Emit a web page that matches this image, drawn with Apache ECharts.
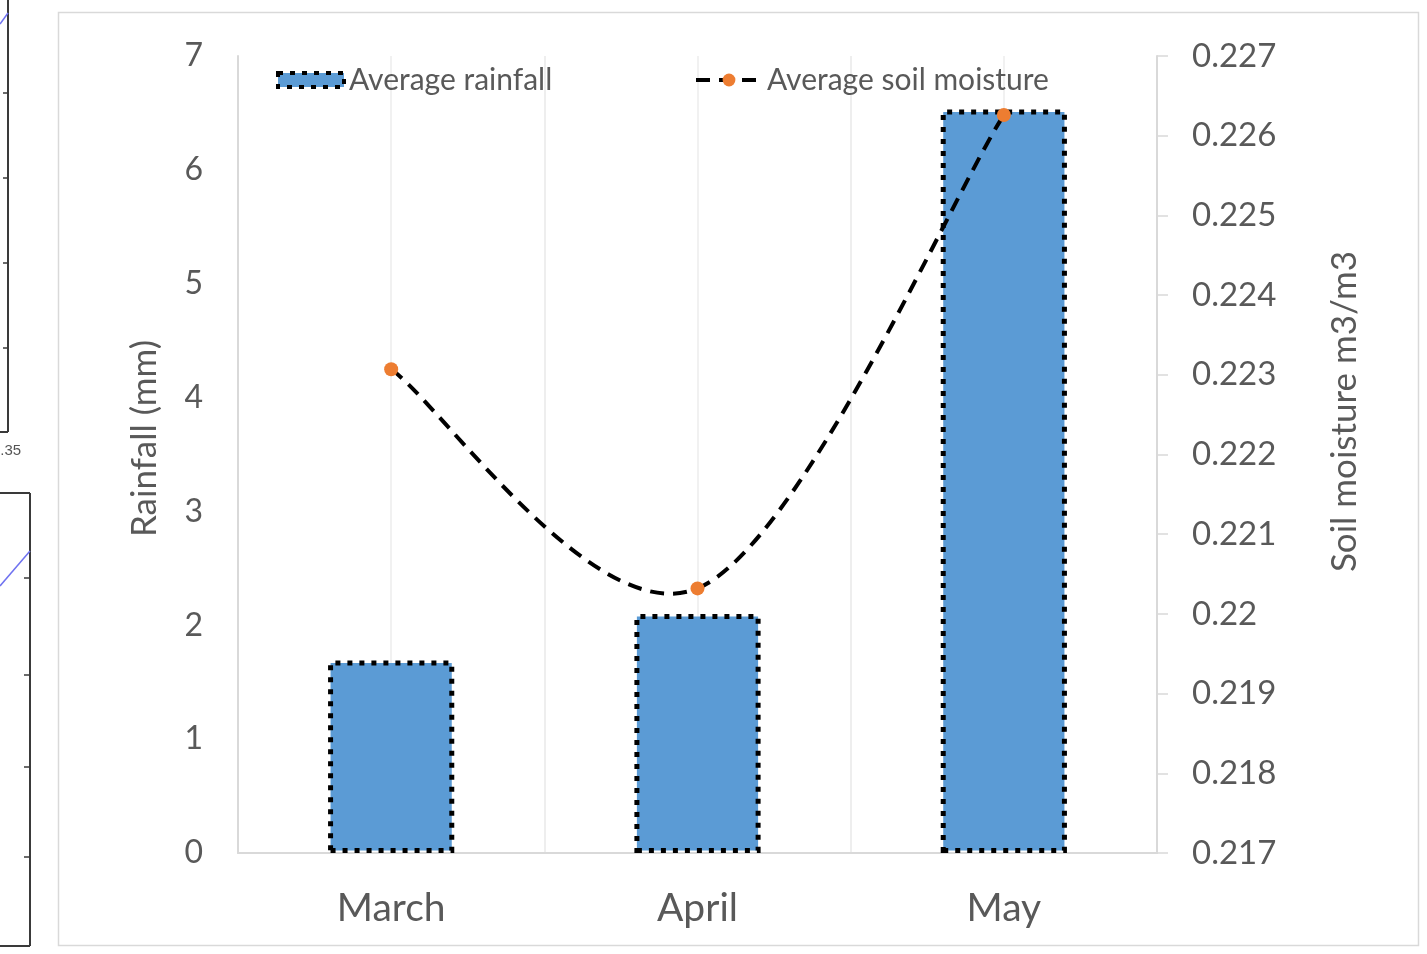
<!DOCTYPE html>
<html>
<head>
<meta charset="utf-8">
<script src="https://cdn.jsdelivr.net/npm/echarts@6/dist/echarts.min.js"></script>
<style>
  html, body { margin: 0; padding: 0; background: #ffffff; }
  #chart { width: 1427px; height: 954px; }
</style>
</head>
<body>
<div id="chart"></div>
<script>
// Monthly averages
const months = ['March', 'April', 'May'];
const rainfall = [1.69, 2.1, 6.53];            // mm
const soilMoisture = [0.22307, 0.22032, 0.22626]; // m3/m3
const rainTicks = { min: 0, max: 7, step: 1 };
const moistTicks = { min: 0.217, max: 0.227, step: 0.001 };

const FONT = 'Lato, "Open Sans", sans-serif';
const GREY_TEXT = '#595959';
const AXIS_GREY = '#d9d9d9';

const barBorder = {
  borderColor: '#000000',
  borderWidth: 5,
  borderType: [5, 7],
  borderCap: 'butt'
};
const moistureLine = { stroke: '#000000', lineWidth: 4, lineDash: [14, 9], fill: null };

const chart = echarts.init(document.getElementById('chart'), null, { renderer: 'canvas' });

// Neighbouring panel edge on the far left of the page
const sidePanel = [
  { type: 'line', shape: { x1: 8, y1: 0, x2: 8, y2: 432 }, style: { stroke: '#3a3a3a', lineWidth: 2 } },
  { type: 'line', shape: { x1: 0, y1: 432, x2: 8, y2: 432 }, style: { stroke: '#3a3a3a', lineWidth: 2 } },
  { type: 'line', shape: { x1: 3, y1: 93, x2: 8, y2: 93 }, style: { stroke: '#3a3a3a', lineWidth: 1.5 } },
  { type: 'line', shape: { x1: 3, y1: 178, x2: 8, y2: 178 }, style: { stroke: '#3a3a3a', lineWidth: 1.5 } },
  { type: 'line', shape: { x1: 3, y1: 263, x2: 8, y2: 263 }, style: { stroke: '#3a3a3a', lineWidth: 1.5 } },
  { type: 'line', shape: { x1: 3, y1: 348, x2: 8, y2: 348 }, style: { stroke: '#3a3a3a', lineWidth: 1.5 } },
  { type: 'line', shape: { x1: 0, y1: 24, x2: 8, y2: 13 }, style: { stroke: '#6f72f0', lineWidth: 1.5 } },
  { type: 'text', x: -8, y: 443, style: { text: '0.35', font: '15px sans-serif', fill: '#555555' } },
  { type: 'line', shape: { x1: 0, y1: 493, x2: 30, y2: 493 }, style: { stroke: '#3a3a3a', lineWidth: 2 } },
  { type: 'line', shape: { x1: 30, y1: 493, x2: 30, y2: 946 }, style: { stroke: '#3a3a3a', lineWidth: 2 } },
  { type: 'line', shape: { x1: 0, y1: 946, x2: 30, y2: 946 }, style: { stroke: '#3a3a3a', lineWidth: 2 } },
  { type: 'line', shape: { x1: 24, y1: 578, x2: 30, y2: 578 }, style: { stroke: '#3a3a3a', lineWidth: 1.5 } },
  { type: 'line', shape: { x1: 24, y1: 675, x2: 30, y2: 675 }, style: { stroke: '#3a3a3a', lineWidth: 1.5 } },
  { type: 'line', shape: { x1: 24, y1: 767, x2: 30, y2: 767 }, style: { stroke: '#3a3a3a', lineWidth: 1.5 } },
  { type: 'line', shape: { x1: 24, y1: 857, x2: 30, y2: 857 }, style: { stroke: '#3a3a3a', lineWidth: 1.5 } },
  { type: 'line', shape: { x1: 0, y1: 586, x2: 30, y2: 551 }, style: { stroke: '#6f72f0', lineWidth: 1.5 } }
];

// Smoothed curve through the moisture points (Catmull-Rom style tangents,
// as spreadsheet "smoothed line" charts draw them)
function renderMoistureCurve(params, api) {
  if (params.dataIndex !== 0) return null;
  const pts = soilMoisture.map((v, i) => api.coord([i, v]));
  const children = [];
  for (let i = 0; i < pts.length - 1; i++) {
    const p0 = pts[i - 1] || pts[i];
    const p1 = pts[i];
    const p2 = pts[i + 1];
    const p3 = pts[i + 2] || pts[i + 1];
    children.push({
      type: 'bezierCurve',
      shape: {
        x1: p1[0], y1: p1[1],
        cpx1: p1[0] + (p2[0] - p0[0]) / 6, cpy1: p1[1] + (p2[1] - p0[1]) / 6,
        cpx2: p2[0] - (p3[0] - p1[0]) / 6, cpy2: p2[1] - (p3[1] - p1[1]) / 6,
        x2: p2[0], y2: p2[1]
      },
      style: moistureLine
    });
  }
  return { type: 'group', children };
}

const option = {
  backgroundColor: '#ffffff',
  animation: false,
  textStyle: { fontFamily: FONT },
  graphic: [
    { type: 'rect', shape: { x: 58.5, y: 12.5, width: 1360, height: 933 },
      style: { fill: 'none', stroke: AXIS_GREY, lineWidth: 1.5 }, z: -10 },
    ...sidePanel
  ],
  grid: { left: 238, right: 270, top: 56, bottom: 101, containLabel: false },
  legend: [
    {
      data: [{ name: 'Average rainfall', icon: 'rect',
               itemStyle: Object.assign({ color: '#5b9bd5' }, barBorder, { borderWidth: 4 }) }],
      left: 271, top: 60,
      itemWidth: 66, itemHeight: 14,
      textStyle: { fontFamily: FONT, fontSize: 30, color: GREY_TEXT }
    },
    {
      data: [{ name: 'Average soil moisture',
               lineStyle: { color: '#000000', width: 4, type: [14, 9], opacity: 1 } }],
      left: 689, top: 60,
      itemWidth: 66, itemHeight: 16,
      textStyle: { fontFamily: FONT, fontSize: 30, color: GREY_TEXT }
    }
  ],
  xAxis: [
    {
      type: 'category',
      data: months,
      boundaryGap: true,
      axisLine: { show: true, lineStyle: { color: AXIS_GREY, width: 2 } },
      axisTick: { show: false },
      axisLabel: { fontFamily: FONT, fontSize: 39, color: GREY_TEXT, margin: 36 },
      splitLine: { show: true, interval: 0, lineStyle: { color: '#ececec', width: 1.5 } }
    },
    {
      // half-category gridlines through the month centres
      type: 'value',
      min: 0, max: 6, interval: 1,
      position: 'bottom',
      show: true,
      axisLine: { show: false },
      axisTick: { show: false },
      axisLabel: { show: false },
      splitLine: { show: true, lineStyle: { color: '#ececec', width: 1.5 } }
    }
  ],
  yAxis: [
    {
      type: 'value',
      min: rainTicks.min, max: rainTicks.max, interval: rainTicks.step,
      name: 'Rainfall (mm)',
      nameLocation: 'middle',
      nameGap: 76,
      nameRotate: 90,
      nameTextStyle: { fontFamily: FONT, fontSize: 35, color: GREY_TEXT, padding: [0, 0, 0, 32] },
      axisLine: { show: true, lineStyle: { color: AXIS_GREY, width: 2 } },
      axisTick: { show: false },
      axisLabel: { fontFamily: FONT, fontSize: 32, color: GREY_TEXT, margin: 35 },
      splitLine: { show: false }
    },
    {
      type: 'value',
      position: 'right',
      min: moistTicks.min, max: moistTicks.max, interval: moistTicks.step,
      name: 'Soil moisture m3/m3',
      nameLocation: 'middle',
      nameGap: 170,
      nameRotate: 90,
      nameTextStyle: { fontFamily: FONT, fontSize: 35, color: GREY_TEXT, padding: [0, 0, 0, 86] },
      axisLine: { show: true, lineStyle: { color: AXIS_GREY, width: 2 } },
      axisTick: { show: true, length: 11, lineStyle: { color: AXIS_GREY, width: 1.5 } },
      axisLabel: { fontFamily: FONT, fontSize: 33, color: GREY_TEXT, margin: 35,
        formatter: v => String(parseFloat(v.toFixed(3))) },
      splitLine: { show: false }
    }
  ],
  series: [
    {
      name: 'Average rainfall',
      type: 'bar',
      xAxisIndex: 0,
      yAxisIndex: 0,
      data: rainfall,
      barWidth: '41.2%',
      itemStyle: Object.assign({ color: '#5b9bd5' }, barBorder),
      z: 2
    },
    {
      name: 'moisture-curve',
      type: 'custom',
      xAxisIndex: 0,
      yAxisIndex: 1,
      data: soilMoisture.map((v, i) => [i, v]),
      encode: { x: 0, y: 1 },
      renderItem: renderMoistureCurve,
      silent: true,
      z: 3
    },
    {
      name: 'Average soil moisture',
      type: 'line',
      xAxisIndex: 0,
      yAxisIndex: 1,
      data: soilMoisture,
      symbol: 'circle',
      symbolSize: 14,
      itemStyle: { color: '#ed7d31' },
      lineStyle: { color: '#000000', width: 4, type: [14, 9], opacity: 0 },
      z: 4
    }
  ]
};

chart.setOption(option);
</script>
</body>
</html>
